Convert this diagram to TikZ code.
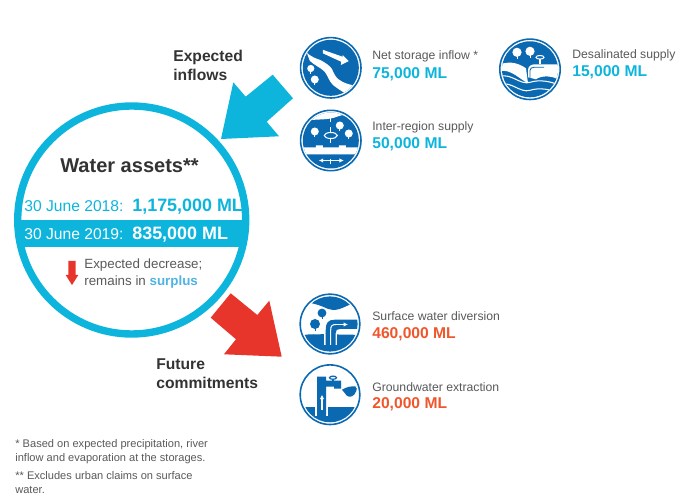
\documentclass[tikz,border=0pt]{standalone}
\usepackage{fontspec}
\setmainfont{Liberation Sans}
\usetikzlibrary{arrows.meta}
\definecolor{assetcyan}{HTML}{0DB5DC}
\definecolor{iconblue}{HTML}{0B69B2}
\definecolor{futurered}{HTML}{E8352B}
\definecolor{figorange}{HTML}{F0562B}
\definecolor{labelgrey}{HTML}{58595B}
\definecolor{headdark}{HTML}{333333}
\definecolor{surplusblue}{HTML}{4FB3E4}
\tikzset{
  x=0.02cm,y=-0.02cm,
  headtext/.style={anchor=west,inner sep=0,align=left,text=headdark,font=\bfseries\fontsize{8.9}{10.9}\selectfont},
  itemtext/.style={anchor=west,inner sep=0,text=labelgrey,font=\fontsize{6.95}{8.6}\selectfont},
  inflowfig/.style={anchor=west,inner sep=0,text=assetcyan,font=\bfseries\fontsize{8.9}{10.6}\selectfont},
  outflowfig/.style={anchor=west,inner sep=0,text=figorange,font=\bfseries\fontsize{8.9}{10.6}\selectfont},
  datetext/.style={anchor=west,inner sep=0,font=\fontsize{8.9}{11}\selectfont},
  amounttext/.style={anchor=west,inner sep=0,font=\bfseries\fontsize{10.2}{12}\selectfont},
  notetext/.style={anchor=north west,inner sep=0,align=left,text=labelgrey,font=\fontsize{6.3}{7.8}\selectfont},
  iconring/.style={draw=iconblue,line width=0.9pt,fill=white},
  whiteline/.style={white,line width=0.6pt},
}
\newcommand{\drawtree}[4]{% colour, x, y, crown radius
  \fill[#1] (#2,#3) circle[radius=#4];
  \draw[#1,line width=0.5pt] (#2,#3) -- ++(0,#4+2);
}
\begin{document}
\begin{tikzpicture}
\useasboundingbox (0,0) rectangle (680,496);
%big circle
\begin{scope}
\clip (131.7,220) circle[radius=115];
\fill[assetcyan] (0,220) rectangle (260,246.7);
\end{scope}
\draw[assetcyan,line width=4.2pt] (131.7,220) circle[radius=114];
%arrows
\fill[assetcyan] (221,139) -- (279,136.3) -- (266.7,121.7) -- (293,98.3) -- (272.7,74.7) -- (245.7,96.7) -- (233.3,82.3) -- cycle;
\fill[futurered] (230.7,293.3) -- (257.3,315) -- (269.3,300.7) -- (281.7,356.7) -- (224,354.3) -- (236,339.3) -- (210.7,317.7) -- cycle;
\fill[futurered] (68.3,261) rectangle (75.7,275) (65.7,275) -- (78.3,275) -- (72,285) -- cycle;
%texts in the circle
\node[anchor=center,inner sep=0,text=headdark,font=\bfseries\fontsize{11.4}{13}\selectfont] (assets) at (129.5,166) {Water assets**};
\node[datetext,text=assetcyan] (dateA) at (24,206) {30 June 2018:};
\node[amounttext,text=assetcyan] (amountA) at (132,207) {1,175,000 ML};
\node[datetext,text=white] (dateB) at (24,234) {30 June 2019:};
\node[amounttext,text=white] (amountB) at (132,235) {835,000 ML};
\node[anchor=west,inner sep=0,text=labelgrey,font=\fontsize{7.6}{9.2}\selectfont] (decrease) at (84,265) {Expected decrease;};
\node[anchor=west,inner sep=0,text=labelgrey,font=\fontsize{7.6}{9.2}\selectfont] (remains) at (84,282) {remains in \textcolor{surplusblue}{\bfseries surplus}};
%headings
\node[headtext] (inflows) at (173,65.5) {Expected\\inflows};
\node[headtext] (commitments) at (156,373.5) {Future\\commitments};
%labels
\node[itemtext] (storage) at (372,56) {Net storage inflow *};
\node[inflowfig] (storagefig) at (372,74) {75,000 ML};
\node[itemtext] (desal) at (572,55) {Desalinated supply};
\node[inflowfig] (desalfig) at (572,72) {15,000 ML};
\node[itemtext] (region) at (372,127) {Inter-region supply};
\node[inflowfig] (regionfig) at (372,144) {50,000 ML};
\node[itemtext] (surface) at (372,316) {Surface water diversion};
\node[outflowfig] (surfacefig) at (372,334) {460,000 ML};
\node[itemtext] (ground) at (372,387) {Groundwater extraction};
\node[outflowfig] (groundfig) at (372,404) {20,000 ML};
\node[notetext] (noteA) at (15,439.5) {* Based on expected precipitation, river\\inflow and evaporation at the storages.};
\node[notetext] (noteB) at (15,471.5) {** Excludes urban claims on surface\\water.};
%icon: net storage inflow
\begin{scope}[shift={(330.8,67.8)}]
\draw[iconring] (0,0) circle[radius=30.2];
\clip (0,0) circle[radius=28];
\fill[iconblue] (-30,-30) rectangle (30,30);
\fill[white] (-24,-15) .. controls (-18,-10) and (-14,-9) .. (-11,-8) .. controls (-5,-5) and (-1,-2) .. (1,1) .. controls (3,5) and (4,8) .. (7,11) .. controls (12,15) and (18,17) .. (30,19) -- (22,30) .. controls (12,24) and (8,22) .. (2,17) .. controls (-2,13) and (-3,8) .. (-6,4) .. controls (-10,0) and (-17,-3) .. (-21,-7) -- cycle;
\fill[white] (-8,-18) -- (12,-11) -- (11.7,-13) -- (18,-6.7) -- (10,-2.7) -- (10.5,-6) -- (-8,-14.5) -- cycle;
\drawtree{white}{-20}{0.7}{3.6}
\drawtree{white}{-16}{11.7}{4}
\end{scope}
%icon: inter-region supply
\begin{scope}[shift={(330.8,140.5)}]
\draw[iconring] (0,0) circle[radius=30.2];
\clip (0,0) circle[radius=28];
\fill[iconblue] (-30,-30) rectangle (30,30);
\fill[white] (-30,-30) -- (30,-30) -- (30,-27) .. controls (18,-27) and (12,-26) .. (4,-23) .. controls (-6,-20) and (-15,-22) .. (-30,-19) -- cycle;
\fill[white] (-30,7) -- (-15,7) -- (-15,5) -- (-8,5) -- (-8,7) -- (8,7) -- (8,5) -- (15,5) -- (15,7) -- (30,7) -- (30,14) -- (-30,14) -- cycle;
\drawtree{white}{-16}{-9}{4}
\drawtree{white}{9}{-15}{4}
\drawtree{white}{18}{-7}{4}
\draw[whiteline,dashed,line width=0.5pt] (0,-24) -- (0,30);
\draw[whiteline] (0,-5) ellipse[x radius=6.5,y radius=3];
\draw[whiteline,{Latex[length=2.5pt,width=2.5pt]}-{Latex[length=2.5pt,width=2.5pt]}] (-12,20) -- (13,20);
\end{scope}
%icon: desalinated supply
\begin{scope}[shift={(530,69.3)}]
\draw[iconring] (0,0) circle[radius=30.2];
\clip (0,0) circle[radius=28];
\fill[iconblue] (-30,-30) rectangle (30,30);
\fill[white] (-30,-5) .. controls (-18,-9) and (-10,-5) .. (-4,-1) -- (-2,14) .. controls (-10,10) and (-20,-1) .. (-30,2) -- cycle;
\fill[white] (-2,1) .. controls (-2,-3) and (1,-5) .. (5,-5) -- (30,-5) -- (30,11) .. controls (20,5) and (10,7) .. (6,10) -- (-2,8) -- cycle;
\draw[whiteline] (-30,7) .. controls (-18,4) and (-10,16) .. (0,13) .. controls (10,10) and (20,12) .. (30,16);
\draw[whiteline] (-30,15) .. controls (-18,12) and (-10,24) .. (0,21) .. controls (10,18) and (20,20) .. (30,24);
\draw[iconblue,line width=0.5pt] (0,9) -- (0,1) .. controls (0,-1) and (2,-2) .. (4,-2) -- (14,-2);
\drawtree{white}{-13}{-17}{4.6}
\drawtree{white}{0}{-18}{4.6}
\draw[whiteline] (10,-12) ellipse[x radius=4,y radius=1.8];
\draw[whiteline,line width=1pt] (10,-10) -- (10,-5);
\end{scope}
%icon: surface water diversion
\begin{scope}[shift={(330,324)}]
\draw[iconring] (0,0) circle[radius=29.8];
\clip (0,0) circle[radius=27.6];
\fill[iconblue] (-30,-30) -- (30,-30) -- (30,-23) .. controls (18,-20) and (12,-14) .. (3,-14) .. controls (-4,-14) and (-8,-21) .. (-30,-22) -- cycle;
\fill[iconblue] (-30,12) .. controls (-20,9) and (-12,11) .. (-5,10) -- (5,10) .. controls (12,12) and (20,9) .. (30,12) -- (30,30) -- (-30,30) -- cycle;
\drawtree{iconblue}{-8}{-11}{4.4}
\drawtree{iconblue}{-15}{0}{5}
\draw[white,line width=1pt] (-5,21) -- (-5,10) (6,21) -- (6,10);
\fill[iconblue] (-4.3,21) -- (-4.3,6) .. controls (-4.3,-1) and (-2,-4.3) .. (4.7,-4.3) -- (30,-4.3) -- (30,5) -- (10,5) .. controls (7,5) and (5.7,6) .. (5.7,9) -- (5.7,21) -- cycle;
\draw[whiteline] (0.7,21) -- (0.7,6) .. controls (0.7,2) and (2,0.5) .. (6,0.5);
\draw[whiteline,-{Latex[length=2.5pt,width=2.5pt]}] (6,0.5) -- (18,0.5);
\end{scope}
%icon: groundwater extraction
\begin{scope}[shift={(330,394.7)}]
\draw[iconring] (0,0) circle[radius=29.8];
\clip (0,0) circle[radius=27.6];
\fill[iconblue] (-30,12.5) rectangle (30,30);
\draw[white,line width=1pt] (-14.3,12.5) -- (-14.3,21) (-2.7,12.5) -- (-2.7,21);
\fill[iconblue] (-13,-18) -- (-4,-18) -- (-4,-14) -- (11,-14) -- (11,-6) -- (4,-6) -- (4,-8) -- (-4,-8) -- (-4,21) -- (-13,21) -- cycle;
\draw[whiteline,-{Latex[length=2.5pt,width=2.5pt]}] (-8,15) -- (-8,0);
\draw[iconblue,line width=0.7pt] (3,-17) ellipse[x radius=3.5,y radius=1.6];
\draw[iconblue,line width=1pt] (3,-16) -- (3,-14);
\fill[iconblue] (12,-5) .. controls (17,-8) and (22,-9) .. (27,-8) .. controls (27,-2) and (23,3) .. (19,2) .. controls (15,1) and (15,-3) .. (12,-5) -- cycle;
\end{scope}
\end{tikzpicture}
\end{document}
